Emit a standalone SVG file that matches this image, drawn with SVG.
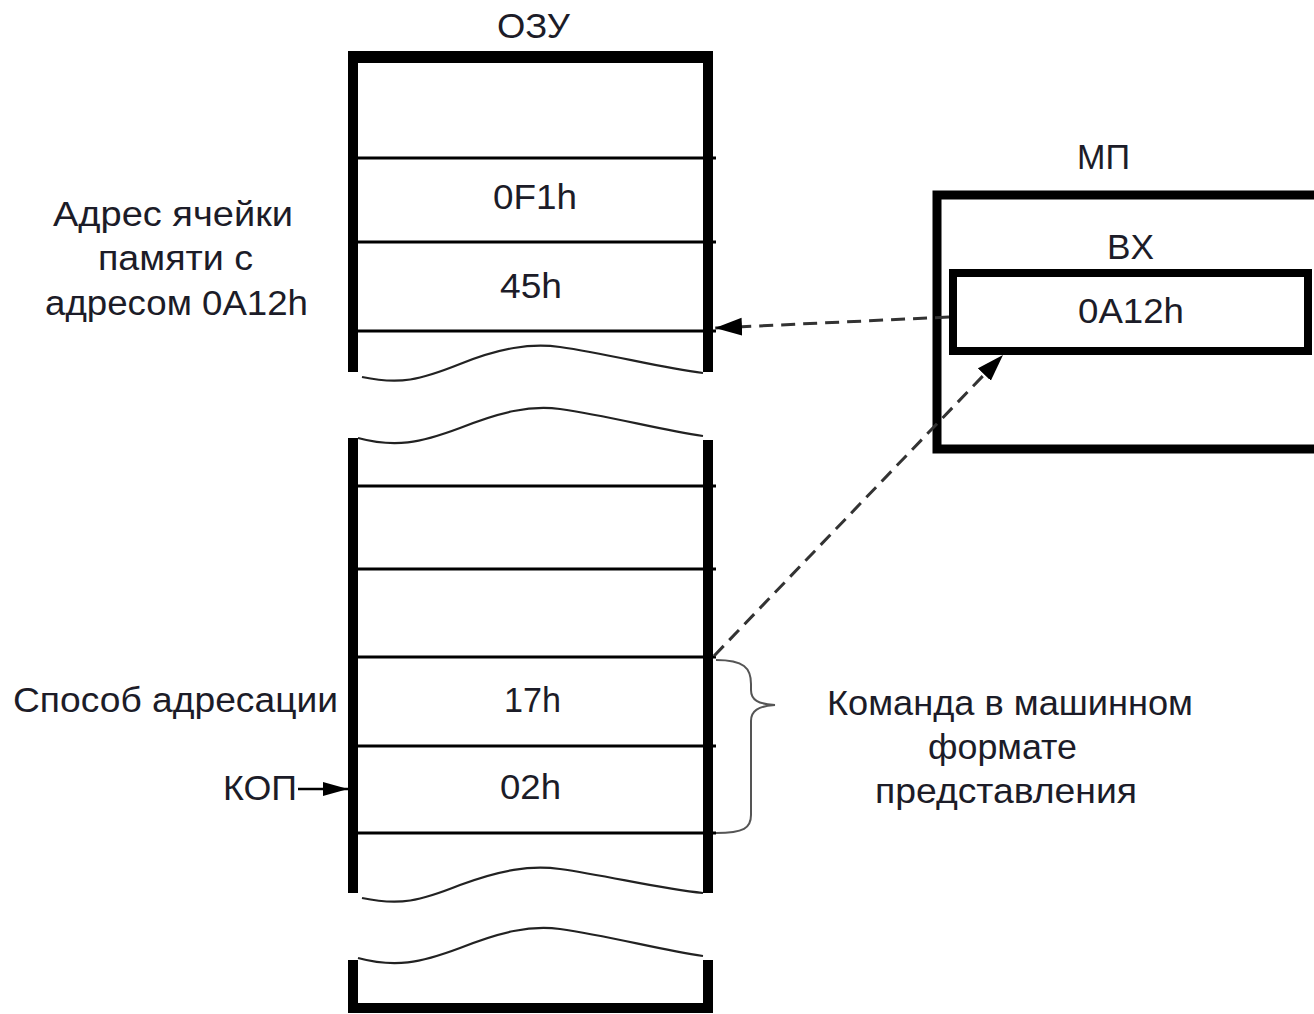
<svg xmlns="http://www.w3.org/2000/svg" width="1314" height="1014" viewBox="0 0 1314 1014">
  <style>
    .t { font-family: "Liberation Sans", Arial, sans-serif; font-size: 35.5px; fill: #1c1c28; }
    .c { text-anchor: middle; }
    .wall { fill: none; stroke: #000; stroke-width: 10; stroke-linejoin: miter; stroke-linecap: butt; }
    .cell { stroke: #000; stroke-width: 3; fill: none; }
    .wave { fill: none; stroke: #222; stroke-width: 2.2; }
    .dash { fill: none; stroke: #333; stroke-width: 3; stroke-dasharray: 14 8; }
    .brace { fill: none; stroke: #555; stroke-width: 2; }
  </style>
  <defs>
    <marker id="ah" markerUnits="userSpaceOnUse" markerWidth="28" markerHeight="20" refX="27" refY="9" orient="auto">
      <path d="M0,0 L27,9 L0,18 Z" fill="#000"/>
    </marker>
    <marker id="ahs" markerUnits="userSpaceOnUse" markerWidth="26" markerHeight="16" refX="25" refY="7" orient="auto">
      <path d="M0,0 L25,7 L0,14 Z" fill="#000"/>
    </marker>
  </defs>

  <rect width="1314" height="1014" fill="#fff"/>

  <g id="ram">
    <text class="t c" x="533.5" y="38" textLength="73" lengthAdjust="spacingAndGlyphs">ОЗУ</text>
    <path class="wall" d="M353,372 V57 H708 V372"/>
    <line x1="348" y1="57" x2="713" y2="57" stroke="#000" stroke-width="12"/>
    <line class="cell" x1="353" y1="158" x2="716" y2="158"/>
    <line class="cell" x1="353" y1="242" x2="716" y2="242"/>
    <line class="cell" x1="353" y1="331" x2="716" y2="331"/>
    <path class="wave" d="M362,377 C400,385 420,380 460,364 C500,348 530,343 560,347 C610,354 660,368 703,373"/>
    <text class="t c" x="535" y="209" textLength="84" lengthAdjust="spacingAndGlyphs">0F1h</text>
    <text class="t c" x="531" y="298" textLength="62" lengthAdjust="spacingAndGlyphs">45h</text>

    <line x1="353" y1="438" x2="353" y2="893" stroke="#000" stroke-width="10"/>
    <line x1="708" y1="440" x2="708" y2="893" stroke="#000" stroke-width="10"/>
    <path class="wave" d="M358,438 C395,448 420,443 460,428 C500,412 530,405 560,409 C610,416 660,430 703,436"/>
    <line class="cell" x1="353" y1="486" x2="716" y2="486"/>
    <line class="cell" x1="353" y1="569" x2="716" y2="569"/>
    <line class="cell" x1="353" y1="657" x2="716" y2="657"/>
    <line class="cell" x1="353" y1="746" x2="716" y2="746"/>
    <line class="cell" x1="353" y1="833" x2="716" y2="833"/>
    <path class="wave" d="M362,898 C400,906 420,901 460,885 C500,870 530,865 560,869 C610,876 660,889 703,893"/>
    <text class="t c" x="532.5" y="712" textLength="57" lengthAdjust="spacingAndGlyphs">17h</text>
    <text class="t c" x="530.5" y="799" textLength="61" lengthAdjust="spacingAndGlyphs">02h</text>

    <path class="wave" d="M358,958 C395,968 420,963 460,948 C500,932 530,925 560,929 C610,936 660,950 703,956"/>
    <path class="wall" d="M353,960 V1008 H708 V960"/>
  </g>

  <g id="mp">
    <text class="t c" x="1103.5" y="169" textLength="53" lengthAdjust="spacingAndGlyphs">МП</text>
    <rect x="937" y="195" width="400" height="254" fill="none" stroke="#000" stroke-width="9"/>
  </g>

  <g id="bx">
    <text class="t c" x="1130.5" y="259" textLength="47" lengthAdjust="spacingAndGlyphs">BX</text>
    <rect x="953" y="273" width="355" height="78" fill="none" stroke="#000" stroke-width="8"/>
    <text class="t c" x="1131" y="323" textLength="106" lengthAdjust="spacingAndGlyphs">0A12h</text>
  </g>

  <g id="labels-left">
    <text class="t c" x="173" y="226" textLength="240" lengthAdjust="spacingAndGlyphs">Адрес ячейки</text>
    <text class="t c" x="175.5" y="270" textLength="155" lengthAdjust="spacingAndGlyphs">памяти с</text>
    <text class="t c" x="176.5" y="315" textLength="263" lengthAdjust="spacingAndGlyphs">адресом 0A12h</text>
    <text class="t" x="13" y="712" textLength="325" lengthAdjust="spacingAndGlyphs">Способ адресации</text>
    <text class="t" x="223" y="800" textLength="74" lengthAdjust="spacingAndGlyphs">КОП</text>
  </g>

  <g id="labels-right">
    <text class="t c" x="1010" y="715" textLength="366" lengthAdjust="spacingAndGlyphs">Команда в машинном</text>
    <text class="t c" x="1002.5" y="759" textLength="149" lengthAdjust="spacingAndGlyphs">формате</text>
    <text class="t c" x="1006" y="803" textLength="262" lengthAdjust="spacingAndGlyphs">представления</text>
  </g>

  <g id="connectors">
    <line class="dash" x1="949" y1="317" x2="715" y2="328" marker-end="url(#ah)"/>
    <line class="dash" x1="714" y1="656" x2="1003" y2="355" marker-end="url(#ah)"/>
    <line x1="298" y1="789" x2="348" y2="789" stroke="#000" stroke-width="2.5" marker-end="url(#ahs)"/>
    <path class="brace" d="M716,660 C744,660 751,668 751,684 V690 C751,700 758,704 775,705 C758,706 751,711 751,721 V815 C751,828 744,833 716,833"/>
  </g>
</svg>
